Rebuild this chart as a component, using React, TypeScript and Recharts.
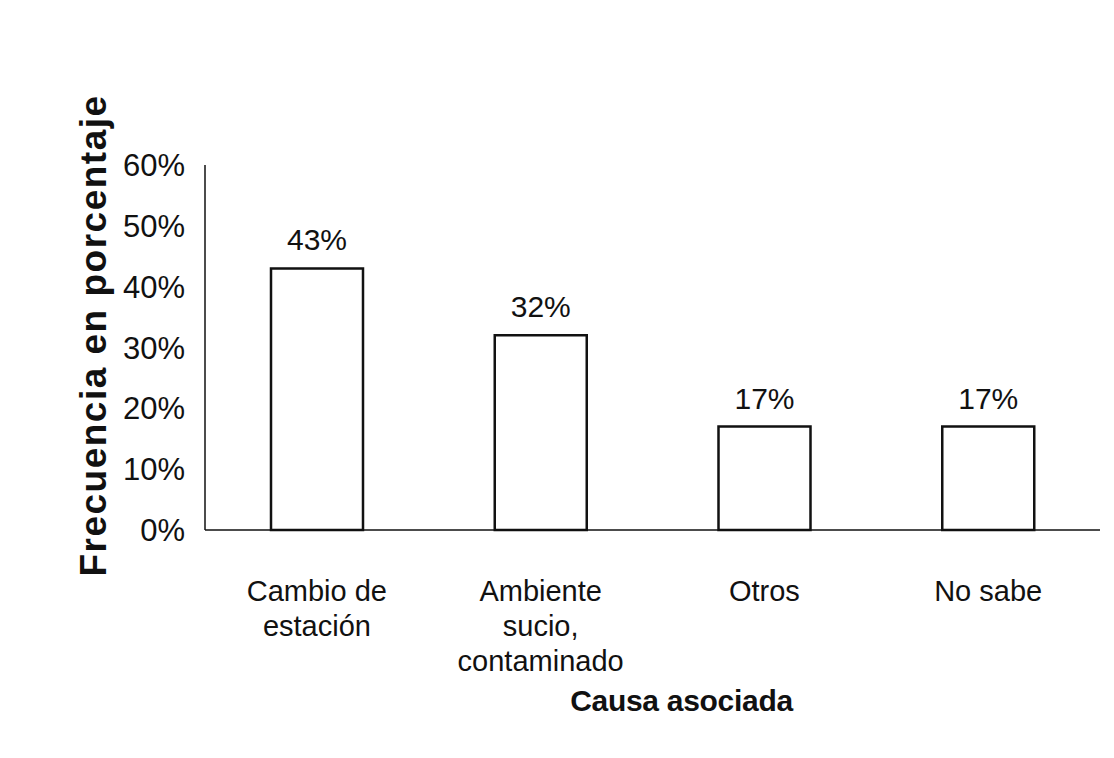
import React from 'react';
import { BarChart, Bar, XAxis, YAxis, LabelList } from 'recharts';

const categories = ['Cambio de estación', 'Ambiente sucio, contaminado', 'Otros', 'No sabe'];
const tickLines = [['Cambio de', 'estación'], ['Ambiente', 'sucio,', 'contaminado'], ['Otros'], ['No sabe']];
const percentages = [43, 32, 17, 17];
const yTicks = [0, 10, 20, 30, 40, 50, 60];

const data = categories.map((name, i) => ({ name, value: percentages[i] }));

const FONT = '"Liberation Sans", Arial, sans-serif';

function CategoryTick(props: any) {
  const { x, y, payload } = props;
  const lines = tickLines[categories.indexOf(payload.value)] || [payload.value];
  return (
    <g transform={`translate(${x},${y})`}>
      <text textAnchor="middle" fontSize={29} fontFamily={FONT} fill="#111">
        {lines.map((line, i) => (
          <tspan key={i} x={0} dy={i === 0 ? 63 : 35}>{line}</tspan>
        ))}
      </text>
    </g>
  );
}

function XTitle(props: any) {
  const { viewBox } = props;
  return (
    <text
      x={viewBox.x + viewBox.width / 2 + 29}
      y={viewBox.y + 181}
      textAnchor="middle"
      fontSize={30}
      fontWeight="bold"
      fontFamily={FONT}
      fill="#111"
      letterSpacing={-0.3}
    >
      Causa asociada
    </text>
  );
}

function YTitle(props: any) {
  const { viewBox } = props;
  const cx = 93;
  const cy = viewBox.y + viewBox.height / 2 - 12;
  return (
    <text
      x={cx}
      y={cy}
      transform={`rotate(-90, ${cx}, ${cy})`}
      textAnchor="middle"
      dominantBaseline="central"
      fontSize={37}
      fontWeight="bold"
      fontFamily={FONT}
      fill="#111"
      letterSpacing={1.5}
    >
      Frecuencia en porcentaje
    </text>
  );
}

export default function App() {
  return (
    <div style={{ position: 'absolute', left: 0, top: 0, width: 1114, height: 758, background: '#fff' }}>
      <BarChart
        width={1114}
        height={758}
        data={data}
        margin={{ top: 165, right: 14, left: 0, bottom: 0 }}
        barSize={92}
      >
        <XAxis
          dataKey="name"
          height={228}
          interval={0}
          tick={<CategoryTick />}
          tickLine={false}
          axisLine={{ stroke: '#111', strokeWidth: 1.5 }}
          label={<XTitle />}
        />
        <YAxis
          width={205}
          domain={[0, 60]}
          ticks={yTicks}
          tickFormatter={(v) => `${v}%`}
          tickLine={false}
          tickSize={8}
          tickMargin={12}
          axisLine={{ stroke: '#111', strokeWidth: 1.5 }}
          tick={{ fontSize: 31, fontFamily: FONT, fill: '#111' }}
          label={<YTitle />}
        />
        <Bar dataKey="value" fill="#fff" stroke="#111" strokeWidth={2.5} isAnimationActive={false}>
          <LabelList
            dataKey="value"
            position="top"
            offset={18}
            formatter={(v: any) => `${v}%`}
            style={{ fontSize: 30, fontFamily: FONT, fill: '#111' }}
          />
        </Bar>
      </BarChart>
    </div>
  );
}
